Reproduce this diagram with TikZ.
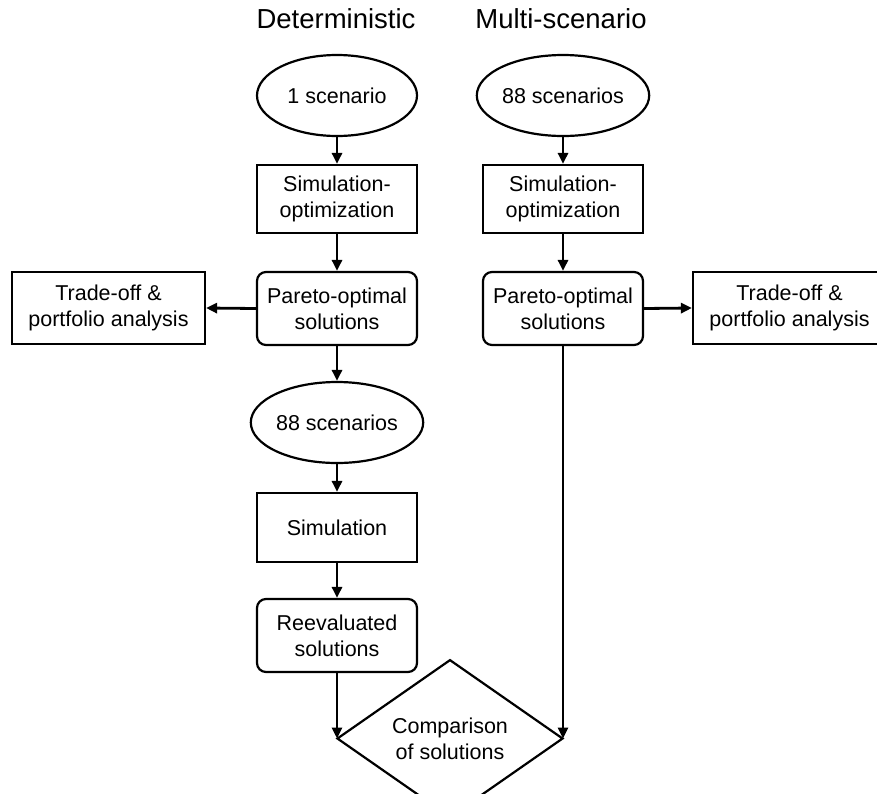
\documentclass[tikz,border=0pt]{standalone}
\usepackage{fontspec}
\setmainfont{Liberation Sans}
\usetikzlibrary{shapes.geometric,arrows.meta}
\begin{document}
\begin{tikzpicture}[x=1pt,y=-1pt,
  base/.style={draw=black,line width=2.2pt,inner sep=0pt,align=center,
    font=\fontsize{21.5}{26}\selectfont},
  ell/.style={base,ellipse,minimum width=160pt,minimum height=81pt},
  box/.style={base,rectangle,minimum width=160pt,minimum height=68pt},
  rbox/.style={base,rectangle,rounded corners=9pt,minimum width=160pt,minimum height=73pt},
  tbox/.style={base,rectangle,minimum width=193pt,minimum height=72pt},
  dia/.style={base,diamond,minimum width=226pt,minimum height=107pt},
  ttl/.style={anchor=base,inner sep=0pt,font=\fontsize{27.5}{30}\selectfont},
  arr/.style={line width=2.8pt,-{Triangle[length=11pt,width=10pt]}}]
\useasboundingbox (0,0) rectangle (877,793);

\node[ttl] (t1) at (336,28) {Deterministic};
\node[ttl] (t2) at (561,28) {Multi-scenario};

\node[ell] (e1) at (337,95.5) {1 scenario};
\node[box] (s1) at (337,199) {Simulation-\\optimization};
\node[rbox] (p1) at (337,308.5) {Pareto-optimal\\solutions};
\node[tbox] (to1) at (108.5,308) {Trade-off \&\\portfolio analysis};
\node[ell] (e2) at (337,422.5) {88 scenarios};
\node[box,minimum height=69pt] (sim) at (337,527.5) {Simulation};
\node[rbox] (re) at (337,635.5) {Reevaluated\\solutions};
\node[dia] (d) at (450,738.5) {Comparison\\of solutions};

\node[ell] (e3) at (563,95.5) {88 scenarios};
\node[box] (s2) at (563,199) {Simulation-\\optimization};
\node[rbox] (p2) at (563,308.5) {Pareto-optimal\\solutions};
\node[tbox] (to2) at (789.5,308) {Trade-off \&\\portfolio analysis};

\draw[arr] (e1.south) -- (s1.north);
\draw[arr] (s1.south) -- (p1.north);
\draw[arr] (p1.south) -- (e2.north);
\draw[arr] (e2.south) -- (sim.north);
\draw[arr] (sim.south) -- (re.north);
\draw[arr] (re.south) -- (re.south |- d.west);
\draw[arr] (p1.west) -- (to1.east);

\draw[arr] (e3.south) -- (s2.north);
\draw[arr] (s2.south) -- (p2.north);
\draw[arr] (p2.east) -- (to2.west);
\draw[arr] (p2.south) -- (p2.south |- d.east);
\end{tikzpicture}
\end{document}
